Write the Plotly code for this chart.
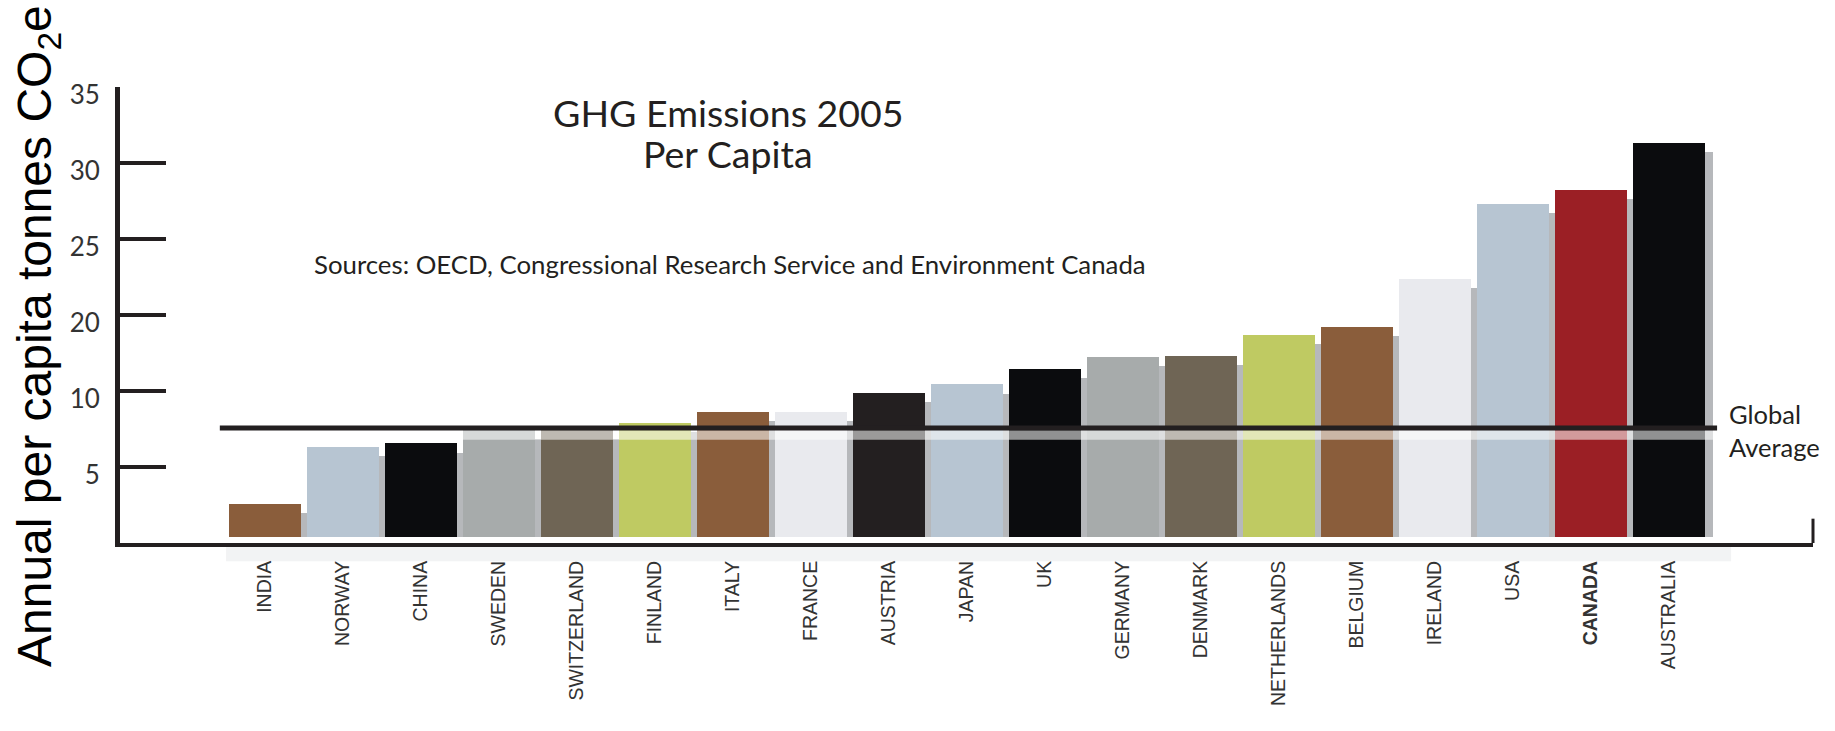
import plotly.graph_objects as go

# ---------------- data ----------------
countries = ["INDIA", "NORWAY", "CHINA", "SWEDEN", "SWITZERLAND", "FINLAND", "ITALY",
             "FRANCE", "AUSTRIA", "JAPAN", "UK", "GERMANY", "DENMARK", "NETHERLANDS",
             "BELGIUM", "IRELAND", "USA", "CANADA", "AUSTRALIA"]
emissions = [2.57, 6.32, 6.55, 7.43, 7.43, 7.89, 8.62, 8.6, 9.87, 10.43, 11.45, 12.24, 12.3,
             13.68, 14.24, 17.37, 22.3, 23.22, 26.3]
bar_colors = ["#8a5d3b", "#b7c5d2", "#0b0c0e", "#a7abab", "#6f6555", "#bfca62", "#8a5d3b",
              "#e9eaee", "#231f20", "#b7c5d2", "#0b0c0e", "#a7abab", "#6f6555", "#bfca62",
              "#8a5d3b", "#e9eaee", "#b7c5d2", "#9b1f25", "#0b0c0e"]
tick_labels_x = ["<b>CANADA</b>" if c == "CANADA" else c for c in countries]
y_tick_positions = [5, 10, 15, 20, 25, 30]
y_tick_labels = ["5", "10", "20", "25", "30", "35"]
GLOBAL_AVERAGE = 7.57

# ---------------- style ----------------
INK = "#231f20"
BAR_FLOOR = 0.4
BAR_W = 0.923
W, H = 1835, 731
ML, MR, MT, MB = 120, 22, 87, 188
PW, PH = W - ML - MR, H - MT - MB


def px_x(px):
    return (px - ML) / PW


def px_y(py):
    return (H - MB - py) / PH


fig = go.Figure()

# drop shadow
fig.add_trace(go.Bar(
    x=countries, y=[v - BAR_FLOOR - 0.6 for v in emissions], base=BAR_FLOOR,
    width=BAR_W, offset=-BAR_W / 2 + 0.11,
    marker=dict(color="#b6b8bb", line=dict(width=0)),
    hoverinfo="skip", showlegend=False))

# bars
fig.add_trace(go.Bar(
    x=countries, y=[v - BAR_FLOOR for v in emissions], base=BAR_FLOOR,
    width=BAR_W, offset=-BAR_W / 2,
    marker=dict(color=bar_colors, line=dict(width=0)),
    showlegend=False))

shapes = []
# translucent band under the global-average line
shapes.append(dict(type="rect", xref="x", yref="y", x0=-0.58, x1=18.62,
                   y0=GLOBAL_AVERAGE - 0.78, y1=GLOBAL_AVERAGE - 0.16,
                   fillcolor="rgba(255,255,255,0.55)", line=dict(width=0), layer="above"))
# global average line
shapes.append(dict(type="line", xref="x", yref="y", x0=-0.58, x1=18.62,
                   y0=GLOBAL_AVERAGE, y1=GLOBAL_AVERAGE,
                   line=dict(color=INK, width=5), layer="above"))
# soft shadow under the baseline
shapes.append(dict(type="rect", xref="x", yref="paper", x0=-0.5, x1=18.8,
                   y0=-0.04, y1=-0.008, fillcolor="rgba(205,207,211,0.25)",
                   line=dict(width=0), layer="below"))
# small end tick on the right of the baseline
shapes.append(dict(type="line", xref="paper", yref="y", x0=1, x1=1, y0=0, y1=1.6,
                   line=dict(color=INK, width=3)))

TXT_FONT = "Lato, Open Sans, sans-serif"
annotations = [
    dict(text="GHG Emissions 2005", xref="paper", yref="paper",
         x=px_x(728), y=px_y(112), xanchor="center", yanchor="middle", showarrow=False,
         font=dict(family=TXT_FONT, size=37.5, color=INK)),
    dict(text="Per Capita", xref="paper", yref="paper",
         x=px_x(728), y=px_y(153), xanchor="center", yanchor="middle", showarrow=False,
         font=dict(family=TXT_FONT, size=37.5, color=INK)),
    dict(text="Sources: OECD, Congressional Research Service and Environment Canada",
         xref="paper", yref="paper", x=px_x(312), y=px_y(264),
         xanchor="left", yanchor="middle", showarrow=False,
         font=dict(family=TXT_FONT, size=25.8, color=INK)),
    dict(text="Global<br>Average", xref="x", yref="y", x=18.75, y=GLOBAL_AVERAGE - 0.2,
         xanchor="left", yanchor="middle", align="left", showarrow=False,
         font=dict(family=TXT_FONT, size=25.5, color=INK)),
    dict(text="Annual per capita tonnes CO<sub>2</sub>e", xref="paper", yref="paper",
         x=px_x(38), y=px_y(336), xanchor="center", yanchor="middle", textangle=-90,
         showarrow=False,
         font=dict(family="Liberation Sans, Arial, sans-serif", size=48, color="#000000")),
]

fig.update_layout(
    width=W, height=H,
    margin=dict(l=ML, r=MR, t=MT, b=MB, autoexpand=False),
    paper_bgcolor="white", plot_bgcolor="white",
    barmode="overlay", bargap=0,
    shapes=shapes, annotations=annotations,
    xaxis=dict(
        type="category", range=[-1.86, 19.85], automargin=False,
        tickmode="array", tickvals=countries, ticktext=tick_labels_x,
        tickangle=-90, ticks="", showgrid=False, zeroline=False,
        showline=True, linecolor=INK, linewidth=4,
        tickfont=dict(family="Liberation Sans Narrow, Arial Narrow, sans-serif",
                      size=19.5, color="#333333"),
        ticklabelstandoff=6,
    ),
    yaxis=dict(
        range=[0, 30], automargin=False,
        tickmode="array", tickvals=y_tick_positions, ticktext=y_tick_labels,
        ticks="inside", ticklen=46, tickwidth=4, tickcolor=INK,
        showgrid=False, zeroline=False, showline=True, linecolor=INK, linewidth=5,
        tickfont=dict(family=TXT_FONT, size=26, color="#333333"),
        ticklabelstandoff=10, ticklabelshift=8,
    ),
)

fig.write_html("out.html", config={"displayModeBar": False},
               post_script="document.body.style.margin='0';document.body.style.padding='0';")
